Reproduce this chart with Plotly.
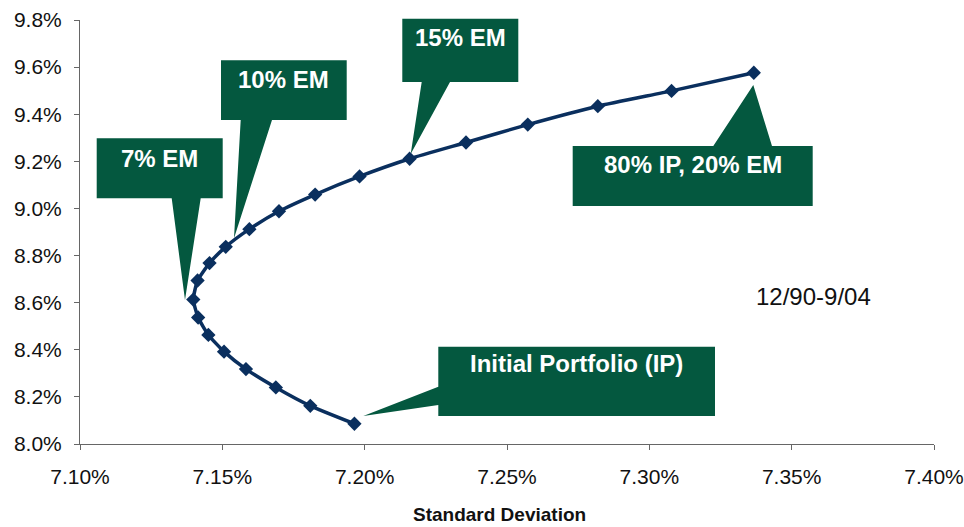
import plotly.graph_objects as go

# ---- data ----
std_dev = [7.1964, 7.1809, 7.1688, 7.1583, 7.1506, 7.1451, 7.1415, 7.1398, 7.1413,
           7.1455, 7.1512, 7.1595, 7.1699, 7.1826, 7.1982, 7.2158, 7.2356, 7.2573,
           7.2819, 7.3078, 7.3367]
exp_return = [8.086, 8.162, 8.240, 8.318, 8.392, 8.463, 8.537, 8.613, 8.694,
              8.768, 8.837, 8.912, 8.988, 9.059, 9.136, 9.211, 9.280, 9.356,
              9.434, 9.499, 9.576]

x_ticks = [7.10, 7.15, 7.20, 7.25, 7.30, 7.35, 7.40]
y_ticks = [8.0, 8.2, 8.4, 8.6, 8.8, 9.0, 9.2, 9.4, 9.6, 9.8]

callout_labels = ["7% EM", "10% EM", "15% EM", "80% IP, 20% EM", "Initial Portfolio (IP)"]
period_label = "12/90-9/04"
x_title = "Standard Deviation"

# ---- layout geometry (pixels) ----
W, H = 964, 527
ML, MR, MT, MB = 80, 30, 20, 83
PW, PH = W - ML - MR, H - MT - MB

def px(x):
    return (x - ML) / PW

def py(y):
    return (H - MB - y) / PH

GREEN = "#04583F"
NAVY = "#0A2F5E"
BOLD_FONT = "Liberation Sans, Arial, sans-serif"

# callout boxes: (x0, y0, x1, y1, pointer side, p1, p2, tip_x, tip_y, text_y)
callouts = [
    (96.7, 138.3, 222.7, 198.3, "bottom", 171.7, 200.7, 185.0, 300.0, 158.3),
    (221.0, 60.3, 346.7, 120.0, "bottom", 240.7, 272.0, 234.0, 238.3, 79.3),
    (402.3, 18.7, 518.3, 82.0, "bottom", 421.7, 450.0, 410.7, 154.0, 37.3),
    (572.7, 146.0, 812.7, 206.0, "top", 713.3, 772.0, 753.3, 85.0, 165.0),
    (438.3, 346.7, 715.0, 416.0, "left", 386.7, 405.0, 363.3, 416.0, 363.3),
]

def pt(x, y):
    return f"{px(x):.5f},{py(y):.5f}"

shapes = []
annotations = []
for (x0, y0, x1, y1, side, p1, p2, tx, ty, txt_y), label in zip(callouts, callout_labels):
    if side == "bottom":
        pts = [(x0, y0), (x1, y0), (x1, y1), (p2, y1), (tx, ty), (p1, y1), (x0, y1)]
    elif side == "top":
        pts = [(x0, y0), (p1, y0), (tx, ty), (p2, y0), (x1, y0), (x1, y1), (x0, y1)]
    else:
        pts = [(x0, y0), (x1, y0), (x1, y1), (x0, y1), (x0, p2), (tx, ty), (x0, p1)]
    path = "M " + " L ".join(pt(a, b) for a, b in pts) + " Z"
    shapes.append(dict(type="path", path=path, xref="paper", yref="paper",
                       fillcolor=GREEN, line=dict(width=0), layer="below"))
    annotations.append(dict(text=f"<b>{label}</b>", x=px((x0 + x1) / 2), y=py(txt_y),
                            xref="paper", yref="paper", xanchor="center", yanchor="middle",
                            showarrow=False,
                            font=dict(family=BOLD_FONT, size=24, color="white")))

annotations.append(dict(text=period_label, x=px(813), y=py(296), xref="paper", yref="paper",
                        xanchor="center", yanchor="middle", showarrow=False,
                        font=dict(family="Liberation Sans, Arial, sans-serif", size=24,
                                  color="#111111")))
annotations.append(dict(text=f"<b>{x_title}</b>", x=px(499), y=py(514), xref="paper",
                        yref="paper", xanchor="center", yanchor="middle", showarrow=False,
                        font=dict(family=BOLD_FONT, size=19, color="#111111")))

fig = go.Figure()
fig.add_trace(go.Scatter(
    x=std_dev, y=exp_return, mode="lines+markers",
    line=dict(color=NAVY, width=3.5, shape="spline", smoothing=0.5),
    marker=dict(symbol="diamond", size=11, color=NAVY),
    hoverinfo="x+y", showlegend=False,
))

axis_font = dict(family="Liberation Sans, Arial, sans-serif", size=21, color="#111111")
fig.update_layout(
    width=W, height=H,
    margin=dict(l=ML, r=MR, t=MT, b=MB, autoexpand=False),
    paper_bgcolor="white", plot_bgcolor="white",
    shapes=shapes, annotations=annotations,
    xaxis=dict(range=[7.10, 7.40], tickvals=x_ticks,
               ticktext=[f"{v:.2f}%" for v in x_ticks], automargin=False,
               showgrid=False, zeroline=False, showline=True, linecolor="#666666",
               linewidth=1, ticks="outside", ticklen=5, tickcolor="#666666",
               tickfont=axis_font, ticklabelstandoff=9),
    yaxis=dict(range=[8.0, 9.8], tickvals=y_ticks,
               ticktext=[f"{v:.1f}%" for v in y_ticks], automargin=False,
               showgrid=False, zeroline=False, showline=True, linecolor="#666666",
               linewidth=1, ticks="outside", ticklen=5, tickcolor="#666666",
               tickfont=axis_font, ticklabelstandoff=8),
)

fig.write_html("out.html")
